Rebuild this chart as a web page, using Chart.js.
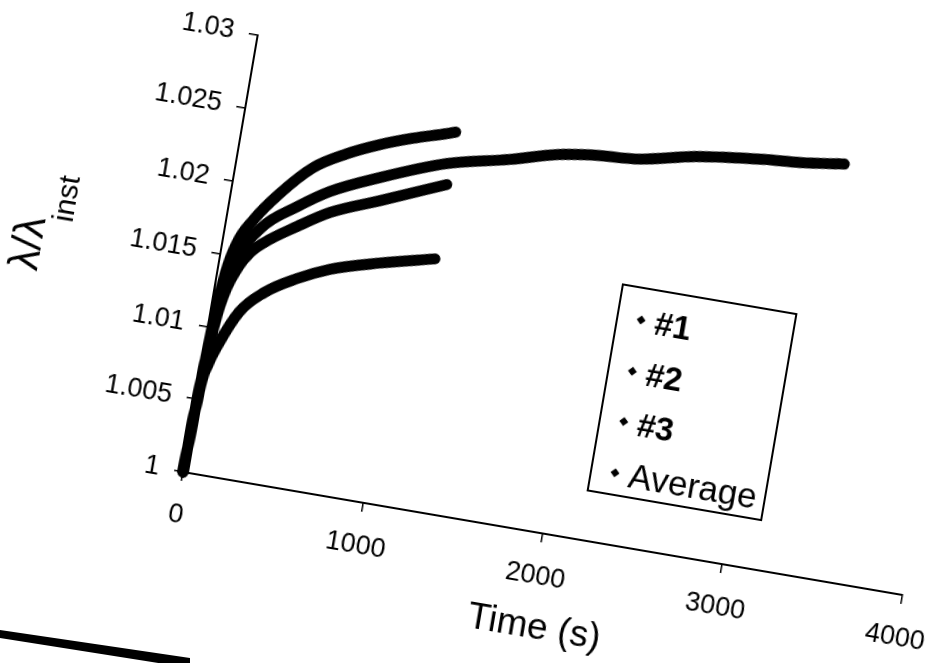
<!DOCTYPE html>
<html>
<head>
<meta charset="utf-8">
<script src="https://cdn.jsdelivr.net/npm/chart.js@4.4.1/dist/chart.umd.min.js"></script>
<style>
  html, body { margin: 0; padding: 0; background: #fff; overflow: hidden; width: 932px; height: 663px; }
  #wrap { position: absolute; left: -57px; top: -11px; width: 1030px; height: 613px;
          transform-origin: 240px 483px; transform: rotate(9.7deg); }
  #scan { position: absolute; left: 0; top: 0; }
</style>
</head>
<body>
<div id="wrap"><canvas id="chart" width="1030" height="613"></canvas></div>
<svg id="scan" width="932" height="663"><polygon points="0,630 190,658 190,668 0,638" fill="#000"/></svg>
<script>
// values (time in s, lambda / lambda_inst)
const seriesNames = ['#1', '#2', '#3', 'Average'];

const time1 = [0, 5, 16, 25, 46, 80, 146, 266, 422, 590, 762, 934, 1113, 1160];
const ratio1 = [1, 1.0030, 1.0072, 1.0105, 1.0138, 1.0159, 1.0176, 1.0197, 1.0218, 1.0231, 1.0241, 1.0249, 1.0256, 1.0258];

const time2 = [0, 5, 16, 25, 46, 100, 198, 371, 535, 792, 1141, 1479, 1728, 1900, 2180, 2477, 2850, 3050, 3290];
const ratio2 = [1, 1.0030, 1.0068, 1.0092, 1.0120, 1.0150, 1.0172, 1.0190, 1.0204, 1.0219, 1.0236, 1.0246, 1.02545, 1.0258, 1.0261, 1.0269, 1.0275, 1.0277, 1.0281];

const time3 = [0, 5, 16, 35, 72, 155, 273, 436, 605, 873, 1165];
const ratio3 = [1, 1.0030, 1.0060, 1.0074, 1.0089, 1.0113, 1.0129, 1.0142, 1.0152, 1.0162, 1.0171];

const timeAvg = [0, 5, 12, 25, 46, 109, 160, 223, 391, 555, 814, 1160];
const ratioAvg = [1, 1.0030, 1.0060, 1.0088, 1.0115, 1.0143, 1.0154, 1.0162, 1.0177, 1.0190, 1.02036, 1.0222];

const xTicks = [0, 1000, 2000, 3000, 4000];
const yTicks = [1, 1.005, 1.01, 1.015, 1.02, 1.025, 1.03];

const FONT = 'Liberation Sans';

function toPoints(ts, ys) {
  return ts.map((t, i) => ({ x: t, y: ys[i] }));
}

function makeSet(label, ts, ys) {
  return {
    label: label,
    data: toPoints(ts, ys),
    borderColor: '#000',
    backgroundColor: '#000',
    borderWidth: 11,
    borderCapStyle: 'round',
    borderJoinStyle: 'round',
    pointRadius: 0,
    cubicInterpolationMode: 'monotone',
    clip: false
  };
}

// axis titles and the framed legend, drawn in the chart's own (unrotated) frame
const overlay = {
  id: 'overlay',
  afterDraw(chart) {
    const ctx = chart.ctx;
    const a = chart.chartArea;
    ctx.save();
    ctx.fillStyle = '#000';
    ctx.strokeStyle = '#000';

    // x title
    ctx.font = `37px "${FONT}"`;
    ctx.textAlign = 'left';
    ctx.textBaseline = 'alphabetic';
    ctx.fillText('Time (s)', a.left + 305, a.bottom + 105);

    // y title with subscript
    ctx.save();
    ctx.translate(a.left - 181, a.bottom - 223);
    ctx.rotate(-Math.PI / 2);
    ctx.font = `42px "${FONT}"`;
    const w1 = ctx.measureText('λ/λ').width;
    ctx.font = `30px "${FONT}"`;
    const w2 = ctx.measureText('inst').width;
    const x0 = -(w1 + w2) / 2;
    ctx.font = `42px "${FONT}"`;
    ctx.fillText('λ/λ', x0, 2.5);
    ctx.font = `30px "${FONT}"`;
    ctx.fillText('inst', x0 + w1, 29.5);
    ctx.restore();

    // legend box
    const bx = a.left + 402, by = a.bottom - 259, bw = 176, bh = 209;
    ctx.lineWidth = 2;
    ctx.strokeRect(bx, by, bw, bh);
    const rowV = [227, 175, 124, 72];
    seriesNames.forEach((name, i) => {
      const cy = a.bottom - rowV[i];
      const mx = a.left + 426;
      ctx.beginPath();
      ctx.moveTo(mx, cy - 4.5);
      ctx.lineTo(mx + 4.5, cy);
      ctx.lineTo(mx, cy + 4.5);
      ctx.lineTo(mx - 4.5, cy);
      ctx.closePath();
      ctx.fill();
      ctx.font = name === 'Average' ? `35px "${FONT}"` : `bold 33px "${FONT}"`;
      ctx.fillText(name, a.left + 440, cy + 12);
    });
    ctx.restore();
  }
};

const ctx = document.getElementById('chart').getContext('2d');
const chart = new Chart(ctx, {
  type: 'line',
  data: {
    datasets: [
      makeSet(seriesNames[0], time1, ratio1),
      makeSet(seriesNames[1], time2, ratio2),
      makeSet(seriesNames[2], time3, ratio3),
      makeSet(seriesNames[3], timeAvg, ratioAvg)
    ]
  },
  options: {
    responsive: false,
    animation: false,
    layout: { padding: { left: 140, top: 40, right: 60.5, bottom: 70 } },
    plugins: { legend: { display: false }, tooltip: { enabled: false } },
    scales: {
      x: {
        type: 'linear',
        min: xTicks[0],
        max: xTicks[xTicks.length - 1],
        afterFit: (scale) => { scale.height = 60; },
        afterBuildTicks: (scale) => { scale.ticks = xTicks.map(v => ({ value: v })); },
        ticks: { color: '#000', padding: 18, font: { family: FONT, size: 27 }, callback: (v) => String(v) },
        grid: { drawOnChartArea: false, drawTicks: true, tickLength: 9, color: '#000', lineWidth: 1.5 },
        border: { display: true, color: '#000', width: 2 }
      },
      y: {
        type: 'linear',
        min: yTicks[0],
        max: yTicks[yTicks.length - 1],
        afterFit: (scale) => { scale.width = 100; },
        afterBuildTicks: (scale) => { scale.ticks = yTicks.map(v => ({ value: v })); },
        ticks: { color: '#000', padding: 15, font: { family: FONT, size: 27 }, callback: (v) => String(Number(v.toFixed(3))) },
        grid: { drawOnChartArea: false, drawTicks: true, tickLength: 9, color: '#000', lineWidth: 1.5 },
        border: { display: true, color: '#000', width: 2 }
      }
    }
  },
  plugins: [overlay]
});
</script>
</body>
</html>
